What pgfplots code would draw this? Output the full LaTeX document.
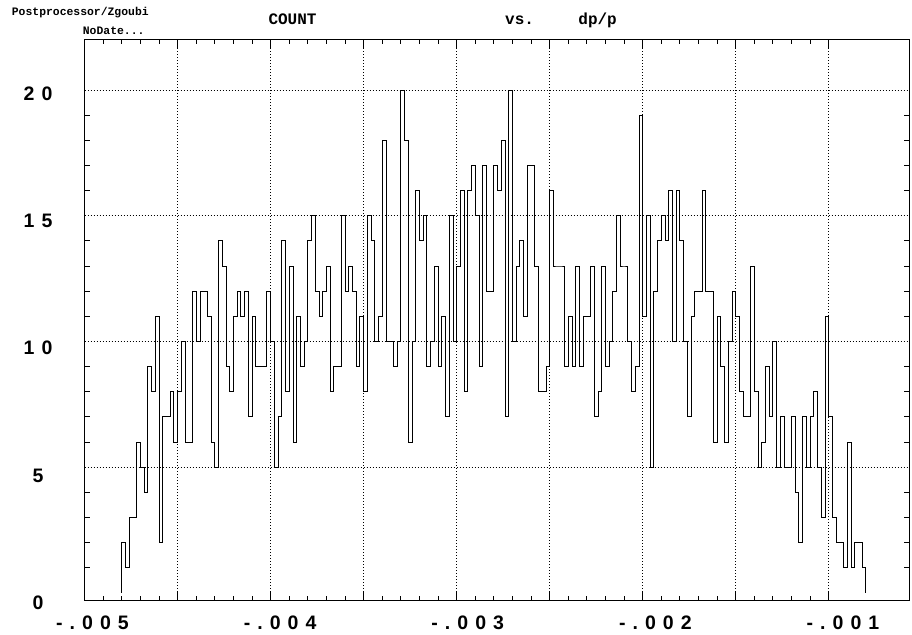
\documentclass[border=0pt]{standalone}
\usepackage{fontspec}
\usepackage{pgfplots}
\pgfplotsset{compat=1.18}
\newfontfamily\monofont{Liberation Mono}
\newfontfamily\tickfont[LetterSpace=36]{Liberation Sans}
\begin{document}
\begin{tikzpicture}
\path[use as bounding box] (0,0) rectangle (912bp,635bp);
\node[anchor=base west, inner sep=0pt, font=\monofont\bfseries\fontsize{11.4bp}{12bp}\selectfont] at (11.7bp,619.5bp) {Postprocessor/Zgoubi};
\node[anchor=base west, inner sep=0pt, font=\monofont\bfseries\fontsize{11.4bp}{12bp}\selectfont] at (82.7bp,600bp) {NoDate...};
\node[anchor=base west, inner sep=0pt, font=\monofont\bfseries\fontsize{16bp}{18bp}\selectfont] at (268.3bp,610bp) {COUNT};
\node[anchor=base west, inner sep=0pt, font=\monofont\bfseries\fontsize{16bp}{18bp}\selectfont] at (505bp,610bp) {vs.};
\node[anchor=base east, inner sep=0pt, font=\monofont\bfseries\fontsize{16bp}{18bp}\selectfont] at (617bp,610bp) {dp/p};
\begin{axis}[
  at={(84.6bp,34.3bp)}, anchor=south west,
  scale only axis, width=824.4bp, height=561.2bp,
  xmin=-0.005, xmax=-0.000568, ymin=-0.314, ymax=22.01,
  scaled x ticks=false, scaled y ticks=false,
  xtick={-0.005,-0.0045,-0.004,-0.0035,-0.003,-0.0025,-0.002,-0.0015,-0.001},
  xticklabels={-.005,,-.004,,-.003,,-.002,,-.001},
  minor x tick num=4,
  xmajorgrids,
  ytick={0,5,10,15,20}, yticklabels={0,5,10,15,20},
  minor y tick num=4,
  extra y ticks={5,10,15,20}, extra y tick labels={},
  extra y tick style={grid=major, major tick length=0pt},
  grid style={black, line width=0.7bp, dash pattern=on 1bp off 2bp},
  major tick length=10bp, minor tick length=5bp,
  major y tick style={draw=none},
  tick style={black, line width=0.8bp},
  axis line style={black, line width=1bp},
  xticklabel style={font=\tickfont\bfseries\fontsize{19.5bp}{20bp}\selectfont, anchor=center, yshift=-22.3bp, xshift={(7.9+0.8*\ticknum)*1bp}},
  yticklabel style={font=\tickfont\bfseries\fontsize{19.5bp}{20bp}\selectfont, anchor=center, xshift=-46.6bp, yshift={-(10.2-1.675*\ticknum)*1bp}},
]
\addplot[const plot mark left, black, line width=0.8bp, mark=none] coordinates {
(-0.00480,0)
(-0.00480,2) (-0.00478,1) (-0.00476,3) (-0.00474,3) (-0.00472,6) (-0.00470,5) (-0.00468,4) (-0.00466,9) (-0.00464,8) (-0.00462,11)
(-0.00460,2) (-0.00458,7) (-0.00456,7) (-0.00454,8) (-0.00452,6) (-0.00450,8) (-0.00448,10) (-0.00446,6) (-0.00444,6) (-0.00442,12)
(-0.00440,10) (-0.00438,12) (-0.00436,12) (-0.00434,11) (-0.00432,6) (-0.00430,5) (-0.00428,14) (-0.00426,13) (-0.00424,9) (-0.00422,8)
(-0.00420,11) (-0.00418,12) (-0.00416,11) (-0.00414,12) (-0.00412,7) (-0.00410,11) (-0.00408,9) (-0.00406,9) (-0.00404,9) (-0.00402,12)
(-0.00400,10) (-0.00398,5) (-0.00396,7) (-0.00394,14) (-0.00392,8) (-0.00390,13) (-0.00388,6) (-0.00386,11) (-0.00384,9) (-0.00382,10)
(-0.00380,14) (-0.00378,15) (-0.00376,12) (-0.00374,11) (-0.00372,12) (-0.00370,13) (-0.00368,8) (-0.00366,9) (-0.00364,9) (-0.00362,15)
(-0.00360,12) (-0.00358,13) (-0.00356,12) (-0.00354,9) (-0.00352,11) (-0.00350,8) (-0.00348,15) (-0.00346,14) (-0.00344,10) (-0.00342,11)
(-0.00340,18) (-0.00338,10) (-0.00336,10) (-0.00334,9) (-0.00332,10) (-0.00330,20) (-0.00328,18) (-0.00326,6) (-0.00324,10) (-0.00322,16)
(-0.00320,14) (-0.00318,15) (-0.00316,9) (-0.00314,10) (-0.00312,13) (-0.00310,9) (-0.00308,11) (-0.00306,7) (-0.00304,15) (-0.00302,10)
(-0.00300,13) (-0.00298,16) (-0.00296,8) (-0.00294,16) (-0.00292,17) (-0.00290,15) (-0.00288,9) (-0.00286,17) (-0.00284,12) (-0.00282,12)
(-0.00280,17) (-0.00278,16) (-0.00276,18) (-0.00274,7) (-0.00272,20) (-0.00270,10) (-0.00268,13) (-0.00266,14) (-0.00264,11) (-0.00262,17)
(-0.00260,17) (-0.00258,13) (-0.00256,8) (-0.00254,8) (-0.00252,9) (-0.00250,16) (-0.00248,13) (-0.00246,13) (-0.00244,13) (-0.00242,9)
(-0.00240,11) (-0.00238,9) (-0.00236,13) (-0.00234,9) (-0.00232,11) (-0.00230,11) (-0.00228,13) (-0.00226,7) (-0.00224,8) (-0.00222,13)
(-0.00220,9) (-0.00218,10) (-0.00216,12) (-0.00214,15) (-0.00212,13) (-0.00210,13) (-0.00208,10) (-0.00206,8) (-0.00204,9) (-0.00202,19)
(-0.00200,11) (-0.00198,15) (-0.00196,5) (-0.00194,12) (-0.00192,14) (-0.00190,15) (-0.00188,14) (-0.00186,16) (-0.00184,10) (-0.00182,16)
(-0.00180,14) (-0.00178,10) (-0.00176,7) (-0.00174,11) (-0.00172,12) (-0.00170,12) (-0.00168,16) (-0.00166,12) (-0.00164,12) (-0.00162,6)
(-0.00160,11) (-0.00158,9) (-0.00156,6) (-0.00154,10) (-0.00152,12) (-0.00150,11) (-0.00148,8) (-0.00146,7) (-0.00144,7) (-0.00142,13)
(-0.00140,8) (-0.00138,5) (-0.00136,6) (-0.00134,9) (-0.00132,7) (-0.00130,10) (-0.00128,5) (-0.00126,7) (-0.00124,5) (-0.00122,5)
(-0.00120,7) (-0.00118,4) (-0.00116,2) (-0.00114,7) (-0.00112,5) (-0.00110,7) (-0.00108,8) (-0.00106,5) (-0.00104,3) (-0.00102,11)
(-0.00100,7) (-0.00098,3) (-0.00096,2) (-0.00094,2) (-0.00092,1) (-0.00090,6) (-0.00088,1) (-0.00086,2) (-0.00084,2) (-0.00082,1)
(-0.00080,0)
};
\end{axis}
\end{tikzpicture}
\end{document}
